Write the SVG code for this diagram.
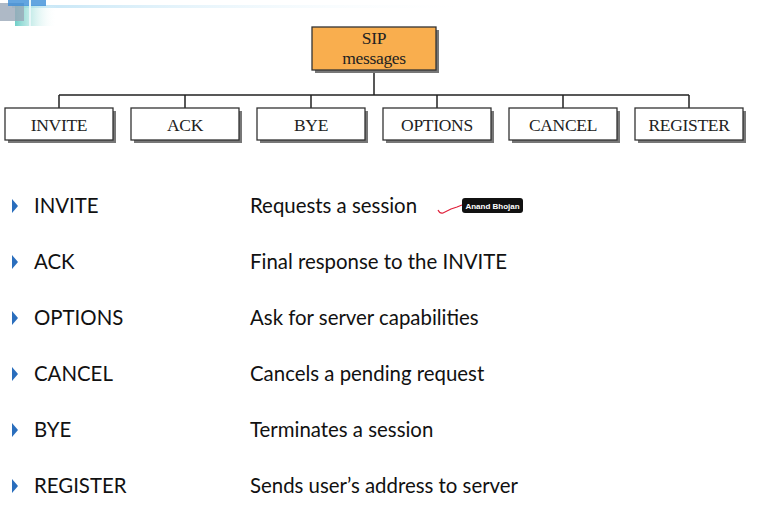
<svg xmlns="http://www.w3.org/2000/svg" width="759" height="516" viewBox="0 0 759 516">
<defs>
<linearGradient id="hl" x1="0" y1="0" x2="1" y2="0"><stop offset="0" stop-color="#bfe3f5"/><stop offset="1" stop-color="#ffffff" stop-opacity="0"/></linearGradient>
<linearGradient id="sq" x1="0" y1="0" x2="1" y2="0"><stop offset="0" stop-color="#6fcfc8"/><stop offset="1" stop-color="#ffffff" stop-opacity="0"/></linearGradient>
</defs>
<style>
.box{fill:#ffffff;stroke:#333;stroke-width:1.3}
.sh{fill:#777}
.lbl{font-family:"Liberation Serif",serif;font-size:17.5px;fill:#222;text-anchor:middle;letter-spacing:-0.3px}
.con{stroke:#222;stroke-width:1.5;fill:none}
.t{font-family:"Lato","Open Sans",sans-serif;font-size:20.4px;fill:#111}
.bul{fill:#2a6ebd}
</style>
<rect width="759" height="516" fill="#ffffff"/>
<g id="decor">
<rect x="12" y="5" width="470" height="3" fill="url(#hl)"/>
<rect x="15" y="6" width="42" height="20" fill="url(#sq)"/>
<rect x="0" y="3" width="24" height="18" fill="#9aa7b8" opacity="0.8"/>
<rect x="8" y="0" width="38" height="6" fill="#3c8fd8" opacity="0.8"/>
<rect x="29" y="0" width="2" height="26" fill="#e8f6f8"/>
</g>
<g id="connectors">
<path class="con" d="M374 72V95M59 95H689M59 95V108M185 95V108M311 95V108M437 95V108M563 95V108M689 95V108"/>
</g>
<g id="sip">
<rect class="sh" x="315" y="30" width="124" height="43"/>
<rect x="312" y="27" width="124" height="43" fill="#f9ae4e" stroke="#333" stroke-width="1.3"/>
<text class="lbl" x="374" y="44">SIP</text>
<text class="lbl" x="374" y="64">messages</text>
</g>
<g id="invite"><rect class="sh" x="8" y="111" width="108" height="32"/><rect class="box" x="5" y="108" width="108" height="32"/><text class="lbl" x="59" y="131">INVITE</text></g>
<g id="ack"><rect class="sh" x="134" y="111" width="108" height="32"/><rect class="box" x="131" y="108" width="108" height="32"/><text class="lbl" x="185" y="131">ACK</text></g>
<g id="bye"><rect class="sh" x="260" y="111" width="108" height="32"/><rect class="box" x="257" y="108" width="108" height="32"/><text class="lbl" x="311" y="131">BYE</text></g>
<g id="options"><rect class="sh" x="386" y="111" width="108" height="32"/><rect class="box" x="383" y="108" width="108" height="32"/><text class="lbl" x="437" y="131">OPTIONS</text></g>
<g id="cancel"><rect class="sh" x="512" y="111" width="108" height="32"/><rect class="box" x="509" y="108" width="108" height="32"/><text class="lbl" x="563" y="131">CANCEL</text></g>
<g id="register"><rect class="sh" x="638" y="111" width="108" height="32"/><rect class="box" x="635" y="108" width="108" height="32"/><text class="lbl" x="689" y="131">REGISTER</text></g>
<g id="list">
<path class="bul" d="M12 199l6 7-6 7z"/>
<text class="t" x="34" y="213">INVITE</text>
<text class="t" x="250" y="213">Requests a session</text>
<path class="bul" d="M12 255l6 7-6 7z"/>
<text class="t" x="34" y="269">ACK</text>
<text class="t" x="250" y="269">Final response to the INVITE</text>
<path class="bul" d="M12 311l6 7-6 7z"/>
<text class="t" x="34" y="325">OPTIONS</text>
<text class="t" x="250" y="325">Ask for server capabilities</text>
<path class="bul" d="M12 367l6 7-6 7z"/>
<text class="t" x="34" y="381">CANCEL</text>
<text class="t" x="250" y="381">Cancels a pending request</text>
<path class="bul" d="M12 423l6 7-6 7z"/>
<text class="t" x="34" y="437">BYE</text>
<text class="t" x="250" y="437">Terminates a session</text>
<path class="bul" d="M12 479l6 7-6 7z"/>
<text class="t" x="34" y="493">REGISTER</text>
<text class="t" x="250" y="493">Sends user’s address to server</text>
</g>
<g id="annotation">
<path d="M438 210q2 4 5 3l8-4 6-2 5-2" stroke="#e0203a" stroke-width="1.2" fill="none"/>
<rect x="462" y="198" width="61" height="15" rx="3" fill="#111"/>
<text x="492.5" y="209" font-family="Liberation Sans,sans-serif" font-size="8" font-weight="bold" fill="#fff" text-anchor="middle">Anand Bhojan</text>
</g>
</svg>
